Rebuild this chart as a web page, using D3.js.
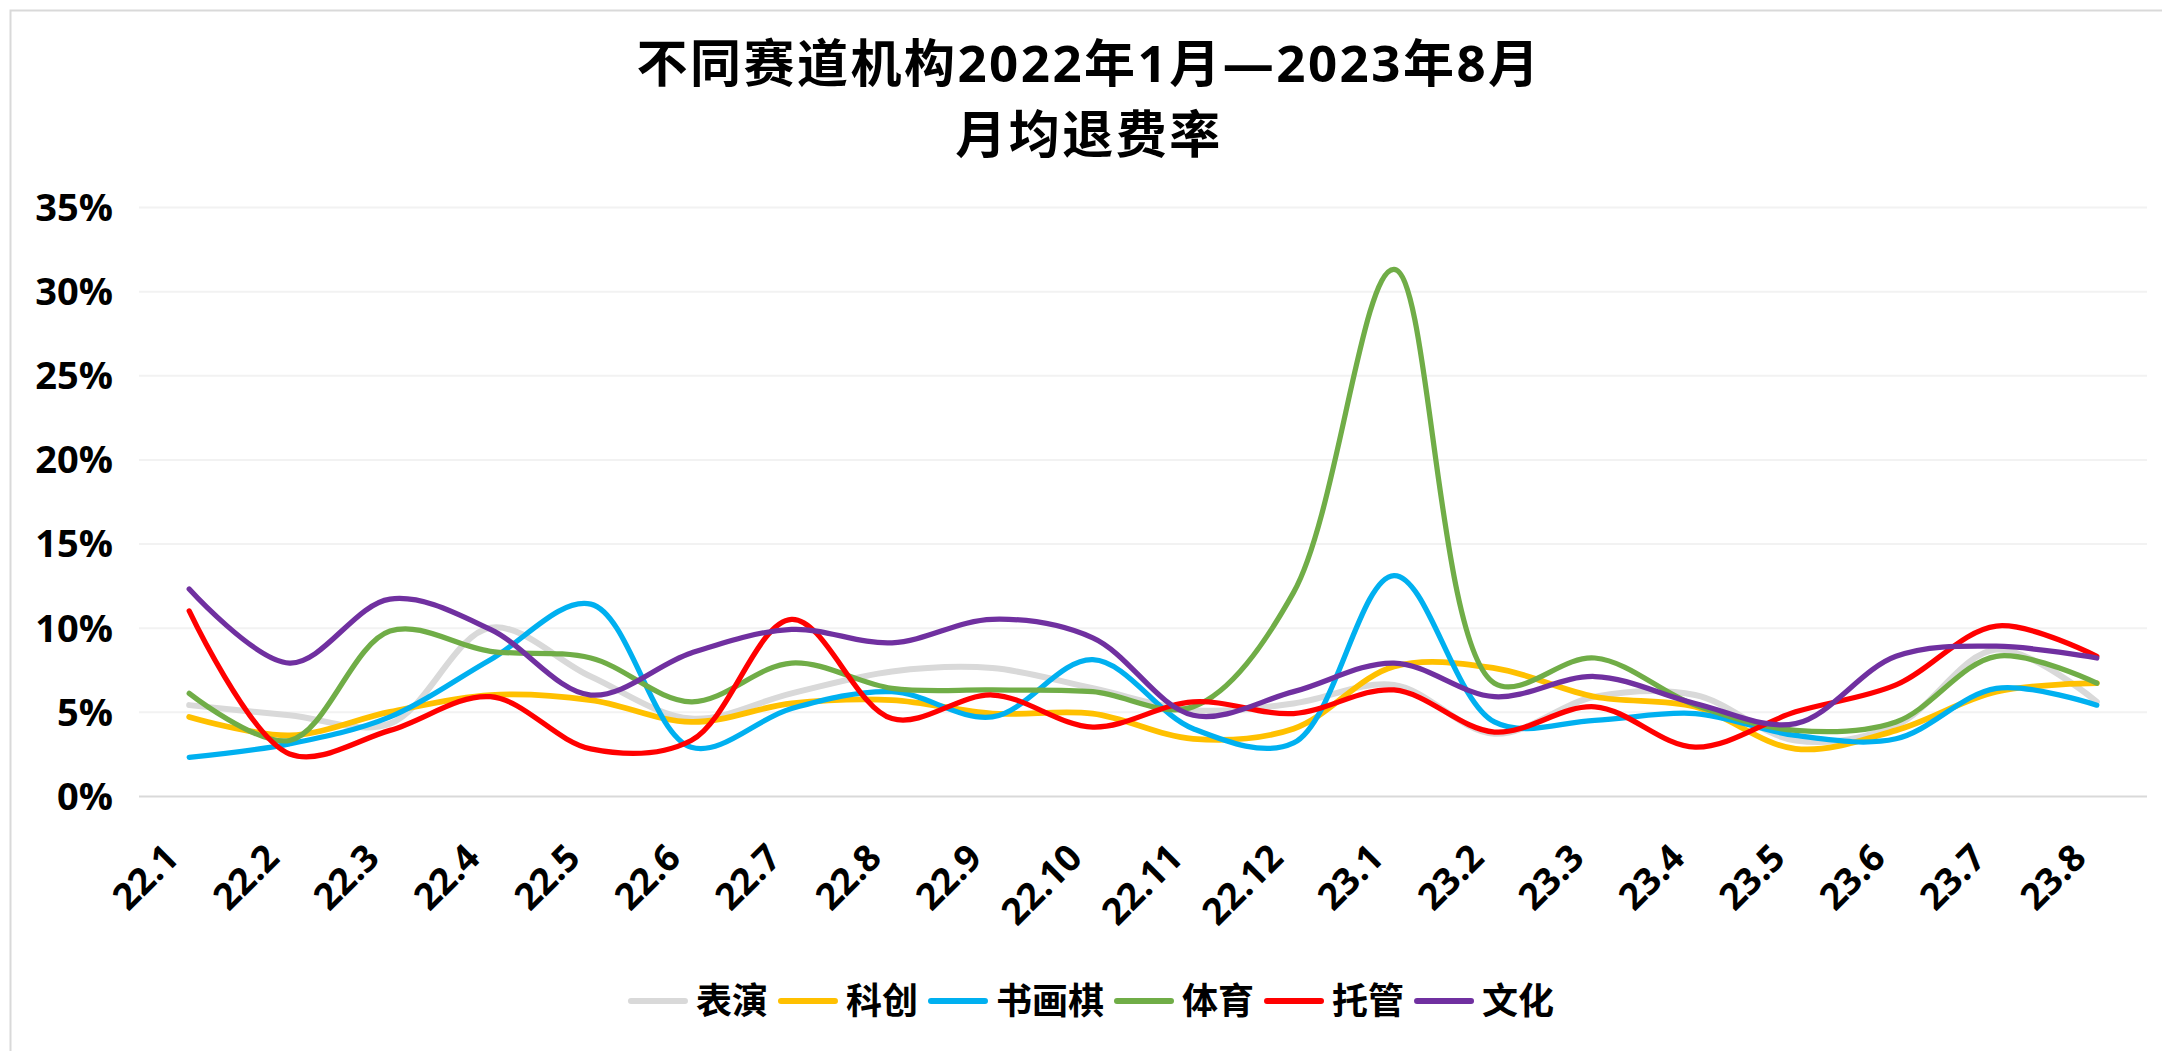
<!DOCTYPE html>
<html>
<head>
<meta charset="utf-8">
<script src="https://cdn.jsdelivr.net/npm/d3@7"></script>
<style>
  body { margin: 0; background: #fff; }
  text { font-family: "Open Sans", "Noto Sans CJK SC", sans-serif; font-weight: 700; fill: #000; }
</style>
</head>
<body>
<div id="chart"></div>
<script>
// data (values in %)
const categories = ["22.1","22.2","22.3","22.4","22.5","22.6","22.7","22.8","22.9","22.10",
                    "22.11","22.12","23.1","23.2","23.3","23.4","23.5","23.6","23.7","23.8"];
const seriesNames = ["表演","科创","书画棋","体育","托管","文化"];
const biaoyan  = [5.4, 4.8, 4.3, 10.0, 7.1, 4.6, 6.1, 7.4, 7.6, 6.4, 5.1, 5.5, 6.6, 3.7, 5.9, 6.0, 3.3, 4.2, 8.7, 5.6];
const kechuang = [4.7, 3.6, 5.0, 6.0, 5.7, 4.4, 5.5, 5.7, 4.9, 4.9, 3.4, 4.0, 7.7, 7.6, 5.9, 5.3, 2.8, 3.9, 6.2, 6.7];
const shuhuaqi = [2.3, 3.1, 4.7, 8.1, 11.4, 2.9, 5.2, 6.2, 4.7, 8.1, 4.0, 3.15, 13.1, 4.4, 4.5, 4.9, 3.6, 3.4, 6.4, 5.4];
const tiyu     = [6.1, 3.3, 9.8, 8.6, 8.2, 5.6, 7.9, 6.4, 6.3, 6.2, 5.3, 12.1, 31.3, 6.7, 8.2, 5.4, 3.9, 4.4, 8.3, 6.7];
const tuoguan  = [11.0, 2.5, 3.9, 5.9, 2.8, 3.3, 10.5, 4.6, 6.0, 4.1, 5.6, 4.9, 6.3, 3.8, 5.3, 2.9, 5.0, 6.6, 10.1, 8.3];
const wenhua   = [12.3, 7.9, 11.7, 9.9, 6.0, 8.5, 9.9, 9.1, 10.5, 9.4, 4.8, 6.2, 7.9, 5.9, 7.1, 5.5, 4.3, 8.3, 8.9, 8.2];
const yTicks = [0, 5, 10, 15, 20, 25, 30, 35];
const titleLines = ["不同赛道机构2022年1月—2023年8月", "月均退费率"];

const colors = ["#D9D9D9", "#FFC000", "#00B0F0", "#70AD47", "#FF0000", "#7030A0"];
const widths = [6, 5.75, 5.25, 5.25, 5.25, 5.25];
const allSeries = [biaoyan, kechuang, shuhuaqi, tiyu, tuoguan, wenhua];

const W = 2162, H = 1051;
const plotLeft = 139, plotRight = 2147, plotTop = 207, plotBottom = 796;

const svg = d3.select("#chart").append("svg")
    .attr("width", W).attr("height", H);

// chart border
svg.append("rect")
    .attr("x", 10.5).attr("y", 10.5)
    .attr("width", 2200).attr("height", 1100)
    .attr("fill", "none").attr("stroke", "#D9D9D9").attr("stroke-width", 2);

const x = d3.scalePoint().domain(categories).range([plotLeft, plotRight]).padding(0.5);
const y = d3.scaleLinear().domain([0, 35]).range([plotBottom, plotTop]);

// gridlines + y labels
const yAxis = svg.append("g")
    .attr("transform", "translate(" + plotLeft + ",0)")
    .call(d3.axisLeft(y).tickValues(yTicks).tickSize(-(plotRight - plotLeft)).tickFormat(d => d + "%"));
yAxis.select(".domain").remove();
yAxis.selectAll(".tick line")
    .attr("stroke", d => d === 0 ? "#D9D9D9" : "#F2F2F2")
    .attr("stroke-width", 2);
yAxis.selectAll(".tick text")
    .attr("x", -26)
    .attr("dy", "0.35em")
    .style("font-size", "38px");

// x labels
const xAxis = svg.append("g")
    .attr("transform", "translate(0," + plotBottom + ")")
    .call(d3.axisBottom(x).tickSize(0));
xAxis.select(".domain").remove();
xAxis.selectAll(".tick text")
    .attr("y", 0).attr("dy", 0)
    .attr("text-anchor", "end")
    .attr("transform", "translate(-9,64) rotate(-45)")
    .style("font-size", "37px");

// lines
const line = d3.line()
    .x((d, i) => x(categories[i]))
    .y(d => y(d))
    .curve(d3.curveCatmullRom.alpha(0.5));

svg.selectAll("path.series")
    .data(allSeries)
    .enter()
    .append("path")
    .attr("class", "series")
    .attr("d", line)
    .attr("fill", "none")
    .attr("stroke", (d, i) => colors[i])
    .attr("stroke-width", (d, i) => widths[i])
    .attr("stroke-linejoin", "round")
    .attr("stroke-linecap", "round");

// title (two lines)
svg.selectAll("text.title")
    .data(titleLines)
    .enter()
    .append("text")
    .attr("class", "title")
    .attr("x", 1089)
    .attr("y", (d, i) => 82 + i * 71)
    .attr("text-anchor", "middle")
    .style("font-size", "51px")
    .style("letter-spacing", "2.5px")
    .text(d => d);

// legend
const legend = svg.append("g");
let lx = 0;
seriesNames.forEach((name, i) => {
    const g = legend.append("g").attr("transform", "translate(" + lx + ",0)");
    g.append("line")
        .attr("x1", 3).attr("x2", 57).attr("y1", 0).attr("y2", 0)
        .attr("stroke", colors[i]).attr("stroke-width", 6).attr("stroke-linecap", "round");
    const t = g.append("text")
        .attr("x", 68).attr("y", 0).attr("dy", "0.36em")
        .style("font-size", "36px")
        .text(name);
    lx += 68 + t.node().getComputedTextLength() + 10;
});
legend.attr("transform", "translate(" + (1091 - (lx - 10) / 2) + ",1001)");
</script>
</body>
</html>
